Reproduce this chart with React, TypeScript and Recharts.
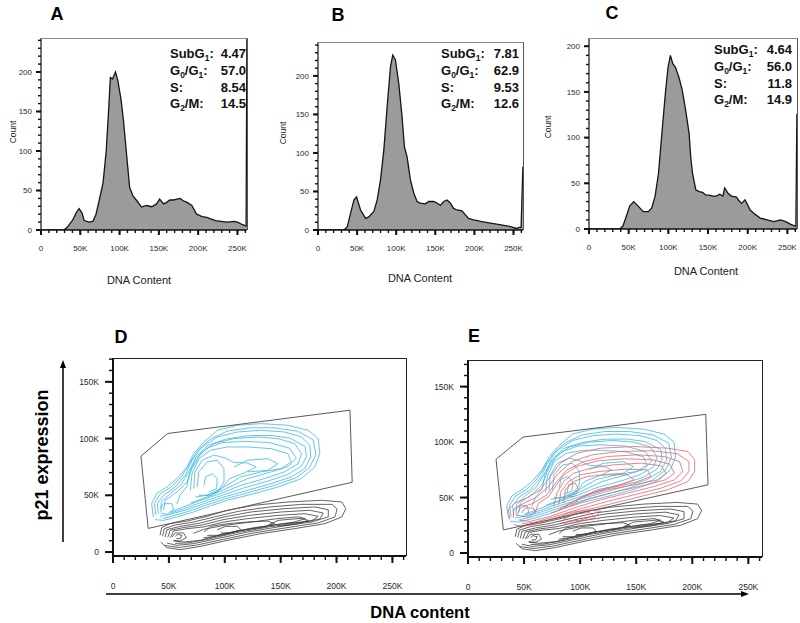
import { AreaChart, Area, LineChart, Line, XAxis, YAxis } from 'recharts';

// ---- tick values ----
const dnaTicksK = [0, 10, 20, 30, 40, 50, 60, 70, 80, 90, 100, 110, 120, 130, 140, 150, 160, 170, 180, 190, 200, 210, 220, 230, 240, 250, 260];
const countTicks240 = [0, 10, 20, 30, 40, 50, 60, 70, 80, 90, 100, 110, 120, 130, 140, 150, 160, 170, 180, 190, 200, 210, 220, 230, 240];
const countTicks200 = [0, 10, 20, 30, 40, 50, 60, 70, 80, 90, 100, 110, 120, 130, 140, 150, 160, 170, 180, 190, 200];
const p21TicksK = [0, 10, 20, 30, 40, 50, 60, 70, 80, 90, 100, 110, 120, 130, 140, 150, 160, 170];

// ---- histograms: [DNA content (K), count] ----
const histA = [
  [0, 0], [29, 0], [33, 3], [40, 12], [45, 22], [48.5, 27], [52, 22], [55, 12], [61, 10], [66, 11], [70, 20], [74, 37],
  [79, 60], [83, 100], [86, 151], [88.3, 193], [91, 191], [94.8, 200], [97.8, 189], [102, 164], [105, 138], [108.5, 100],
  [112.8, 54], [117, 43], [122, 37], [128, 29], [134, 31], [141, 29.5], [147, 33], [151, 39], [156, 33], [160, 35],
  [164, 38], [168.5, 38], [177, 40], [181, 37], [186, 35], [192, 31], [198, 20], [205, 17], [211, 16], [216, 14],
  [222, 12], [229, 11], [237, 10], [246, 11], [250, 10], [256, 7], [261, 5], [262, 242],
];
const histB = [
  [0, 0], [33, 0], [37.4, 4], [41.7, 22], [45.9, 39], [49.3, 43], [54.4, 26], [60.8, 15], [65, 17], [71.4, 24], [75.7, 39],
  [79.9, 65], [84.2, 104], [88.4, 160], [92.7, 212], [95.6, 227], [99, 221], [103.3, 190], [107.5, 147], [110.5, 108],
  [113.9, 95], [118.2, 65], [122.4, 48], [126.7, 37], [130.9, 35], [137.3, 34], [141.5, 37], [147.9, 37], [152.2, 35],
  [156.4, 32], [160.7, 37], [164.9, 39], [169.2, 35], [173.4, 28], [177.7, 26], [184, 25], [188.3, 20], [192.5, 15],
  [198.9, 13], [209.5, 11], [226.5, 8], [243.5, 5], [254.2, 2], [257.1, 3.5], [259.7, 3.5], [262, 82],
];
const histC = [
  [0, 0], [38.5, 0], [42.7, 3], [47, 14], [51.3, 25], [56.4, 30], [62, 25], [68.4, 19], [74.8, 19], [79.1, 23], [83.3, 36],
  [87.6, 61], [91.9, 105], [96.2, 148], [99.6, 177], [102.6, 190], [105.6, 181], [109, 177], [113.3, 166], [117.5, 152],
  [121.8, 130], [126.1, 105], [128.2, 79], [130.4, 61], [134.6, 43], [138.9, 41], [143.2, 40], [147.5, 37], [151.7, 37],
  [156, 36], [160.3, 36], [164.6, 38], [168.8, 36], [171, 45], [175.2, 39], [179.5, 36], [185.9, 35], [188.1, 32],
  [192.3, 28], [196.6, 32], [199.6, 27], [202.9, 21], [209.4, 16], [215.8, 12], [224.4, 10], [232.9, 8], [241.5, 10],
  [247.9, 8], [254.3, 5], [260.7, 3], [262, 126],
];

// ---- cell cycle percentages ----
const statsA = ['4.47', '57.0', '8.54', '14.5'];
const statsB = ['7.81', '62.9', '9.53', '12.6'];
const statsC = ['4.64', '56.0', '11.8', '14.9'];

// ---- contour rings: [DNA (K), p21 (K)] ----
const gate = [[25, 84.5], [49, 104.5], [212, 125], [214, 61.5], [31.5, 20.8]];

const blueRings = [
  [[36.1, 30.9], [34.6, 42.6], [39.1, 51.5], [48.2, 57.3], [57.2, 64.7], [66.2, 75], [72.2, 86.7], [81.3, 97], [93.3, 107.3], [111.4, 111.7], [132.4, 113.2], [156.5, 111.7], [174.6, 107.3], [183.6, 100], [185.1, 86.7], [180.6, 75], [168.6, 64.7], [147.5, 57.3], [126.4, 51.5], [102.3, 45.6], [84.3, 39.7], [72.2, 35.3], [57.2, 30.9], [45.2, 27.9], [37.6, 28.5]],
  [[38.5, 32.5], [37, 42.6], [42, 51], [52, 57.3], [61, 66], [68.5, 78], [76, 89.7], [87, 99.5], [102, 106.5], [122, 109.5], [144, 109.5], [165, 106.5], [179, 99], [181.5, 86], [176, 74.5], [164, 65.5], [144.5, 58.8], [123.4, 53], [100.8, 47], [82.8, 41.2], [69.2, 36.3], [54.2, 32], [44.5, 29.5]],
  [[40.6, 33.8], [39.7, 42.6], [45.2, 50], [55.7, 57.3], [64.7, 67.6], [70.7, 80.9], [79.8, 92.6], [93.3, 101.4], [111.4, 105.8], [132.4, 107.3], [153.5, 105.8], [168.6, 101.4], [176.1, 94.1], [177, 83.8], [171.6, 73.5], [159.5, 66.2], [141.5, 60.3], [120.4, 54.4], [99.3, 48.5], [81.3, 42.6], [66.2, 37.3], [51.2, 33.2], [42.1, 31.5]],
  [[42.9, 35.3], [43.2, 44], [51.2, 51.5], [61, 59.5], [67.7, 70.6], [74.5, 84], [85, 94.1], [101, 99.5], [120.4, 102.5], [141, 102.8], [158, 100.5], [172, 93], [173, 84], [168.6, 75.7], [156.5, 68.4], [138.5, 62.5], [117.4, 56.6], [97.8, 50], [79.8, 44.1], [64.7, 38.5], [51.2, 34.2]],
  [[45.2, 36.8], [46.7, 45.6], [57.2, 52.9], [66.2, 61.7], [70.7, 73.5], [78.3, 86.7], [90.3, 95.6], [108.4, 100], [129.4, 101.4], [147.5, 100], [162.5, 95.6], [168.6, 86.7], [165.6, 77.9], [153.5, 70.6], [135.5, 64.7], [114.4, 58.8], [96.3, 51.5], [78.3, 45.6], [63.2, 39.7], [51.2, 35.3]],
  [[57, 42], [60, 50], [66.2, 58], [68.5, 70], [74, 82], [84, 91.5], [98, 96.5], [118, 97.5], [140, 96.5], [158, 91.5], [164, 83], [157, 75.5], [141.5, 70.6], [120.4, 64.7], [99.3, 55], [84.3, 48.5], [69.2, 43]],
  [[69.2, 54.4], [70.7, 69.1], [76.8, 82.3], [87.3, 89.7], [102.3, 92.6], [120.4, 92.6], [141.5, 91.1], [156.5, 86.7], [159.5, 79.4], [150.5, 73.5], [132.4, 70.6], [114.4, 66.2], [99.3, 57.3], [84.3, 50], [73.7, 48.5]],
  [[72.2, 55.9], [73.2, 70], [79.8, 81], [90.3, 85.5], [100, 83], [108, 79], [120, 78.5], [128, 75], [118, 70], [104, 64.5], [96.3, 55], [86.8, 49.5], [76.8, 50]],
  [[75.3, 57.3], [76.8, 70.6], [84.3, 79.4], [93.3, 80.9], [99.3, 73.5], [99.3, 61.7], [93.3, 52.9], [82.8, 50]],
  [[81.3, 58.8], [82.8, 66.2], [88.8, 69.1], [93.3, 64.7], [92.7, 55.9], [85.8, 52.9]],
  [[42.1, 38.2], [45.2, 42.6], [52.7, 42.6], [54.2, 36.8], [48.2, 33.2], [42.7, 34.4]],
  [[108.4, 75], [120.4, 80.9], [138.5, 82.3], [147.5, 77.9], [138.5, 72], [120.4, 70.6]],
];

const blackRings = [
  [[42.1, 14.7], [43.6, 21.5], [51.2, 25], [66.2, 27.3], [84.3, 31.5], [102.3, 36.8], [126.4, 41.2], [156.5, 44.1], [186.6, 45.6], [204.7, 44.1], [208.3, 38.2], [204.7, 30.9], [189.6, 25], [162.5, 20.6], [132.4, 16.2], [102.3, 10.3], [78.3, 5], [60.2, 2.1], [48.2, 3.8], [42.7, 8.8]],
  [[44.4, 14], [45.9, 20.6], [55.7, 23.8], [72.2, 26.5], [91.8, 31.2], [112.8, 36], [140, 39.7], [168.6, 42], [196, 42], [200.5, 37.8], [198.6, 30.9], [183.6, 25.7], [156.5, 21.6], [126.4, 16.9], [97.8, 11], [75.3, 6.2], [58.7, 4], [46.2, 5.8]],
  [[46.7, 13.2], [48.2, 19.7], [60.2, 22.6], [78.3, 25.6], [99.3, 30.9], [123.4, 35.3], [153.5, 38.2], [180.6, 39.7], [192.6, 37.3], [192.6, 30.9], [177.6, 26.5], [150.5, 22.6], [120.4, 17.6], [93.3, 11.8], [72.2, 7.4], [57.2, 5.9], [48.2, 7.9]],
  [[49, 12.9], [51.2, 19.1], [63.2, 21.6], [79.8, 23.8], [99.3, 28.7], [121.9, 32.3], [150.5, 35.3], [176.1, 36.8], [188.1, 34.4], [185.1, 29.1], [165.6, 25.8], [138.5, 22], [110, 17], [85.8, 11.5], [67.7, 8.1], [55.7, 7.6]],
  [[51.2, 12.6], [54.2, 18.5], [66.2, 20.6], [81.3, 22.1], [99.3, 26.5], [120.4, 29.4], [147.5, 32.3], [171.6, 33.8], [183.6, 31.5], [177.6, 27.3], [153.5, 25], [126.4, 21.5], [99.3, 16.2], [78.3, 10.3], [63.2, 8.8], [54.2, 9.7]],
  [[72, 16.5], [81.3, 20], [99.3, 23.5], [120.4, 26], [147.5, 29.5], [165.6, 31], [172, 29.5], [162.5, 26.5], [138.5, 23], [114.4, 19], [96.3, 14.5], [80.8, 12.5]],
  [[52.7, 13.2], [55.7, 16.8], [63.2, 16.8], [65.6, 12.6], [60.2, 9.7], [54.2, 10.3]],
  [[81.3, 17.6], [87.3, 22.6], [102.3, 25], [120.4, 26.5], [138.5, 27.3], [144.5, 25], [132.4, 21.5], [111.4, 18.5], [93.3, 14.7], [84.3, 14.7]],
  [[93.3, 19.7], [100.8, 22.6], [111.4, 22.6], [114.4, 19.7], [105.4, 16.8], [96.3, 16.8]],
  [[138.5, 23.5], [147.5, 27.9], [168.6, 29.7], [174.6, 27.9], [165.6, 25], [147.5, 22.6]],
  [[55.7, 13.8], [57.8, 15.6], [61.7, 14.7], [60.2, 11.8], [56.6, 11.8]],
];

const redRings = [
  [[37.4, 30], [35.9, 39], [41.9, 45], [52.4, 49.5], [64.4, 57], [73.4, 69], [82.3, 81], [97.3, 90], [118.3, 94.5], [148.2, 96], [178.1, 94.5], [196.1, 91.5], [202.1, 84], [202.1, 73.5], [196.1, 64.5], [178.1, 57], [154.2, 51], [130.2, 45], [106.3, 39], [82.3, 33], [64.4, 27], [49.4, 24], [40.4, 25.5]],
  [[40.4, 31.5], [41, 39.8], [50, 45], [61.4, 50.5], [71.9, 60], [80.8, 72], [92.8, 82.5], [110.8, 88.5], [135, 91.5], [163.7, 92.2], [186.6, 89.5], [197, 82.5], [197, 73.5], [190.1, 65.2], [172.2, 58.5], [148.2, 52.5], [124.3, 46.5], [100.3, 39.8], [77.8, 33], [59.9, 27.8], [47.9, 26.5]],
  [[43.4, 33], [46.4, 40.5], [58.4, 45], [70.4, 52.5], [79.3, 64.5], [88.3, 75], [103.3, 82.5], [124.3, 87], [151.2, 88.5], [175.2, 87], [188.6, 82.5], [191.6, 73.5], [184.1, 66], [166.2, 60], [142.2, 54], [118.3, 48], [94.3, 40.5], [73.4, 33], [55.4, 28.5], [46.4, 29.4]],
  [[60, 37], [63, 45], [72, 51], [78, 60], [85, 70], [97, 78], [115, 83], [140, 85], [165, 84], [180, 80], [184, 72], [176, 66], [157, 60.8], [133, 55.5], [110, 49.5], [90, 42], [74, 36]],
  [[76.3, 42], [79.3, 54], [85.3, 64.5], [94.3, 72], [109.3, 76.5], [130.2, 79.5], [154.2, 81], [172.2, 78.6], [176.6, 72], [169.2, 66], [148.2, 61.5], [124.3, 57], [103.3, 51], [88.3, 43.5], [80.8, 39]],
  [[81, 43.5], [83, 55.5], [89.8, 64.5], [100.3, 70.5], [117, 73.5], [140, 75.5], [160, 75], [163, 69], [150, 64], [130, 59.2], [110, 54], [95, 47], [86, 41]],
  [[85.3, 45], [86.8, 57], [94.3, 64.5], [106.3, 69], [124.3, 70.5], [142.2, 70.5], [148.2, 66], [136.2, 61.5], [115.3, 57], [100.3, 49.5], [91.3, 42]],
  [[79.3, 30], [88.3, 36], [106.3, 39], [118.3, 37.5], [112.3, 31.5], [94.3, 27], [82.3, 27]],
  [[85, 30.5], [95, 35], [108, 36.5], [112, 33.5], [100, 29.5], [88, 28.5]],
  [[47.9, 36], [50.9, 40.5], [58.4, 40.5], [59.9, 36], [53.9, 32.4], [48.8, 33]],
  [[88.3, 54], [89.8, 61.5], [95.8, 63], [98.8, 57], [94.3, 51], [89.2, 51]],
];

const FONT = '"Liberation Sans", Arial, sans-serif';
const AX = 40;
const XH = 40;

const toPts = (rows: number[][], kx: number, ky: number) => rows.map(([a, b]) => ({ x: a * kx, y: b * ky }));
const kLabel = (v: number) => (v === 0 ? '0' : `${Math.round(v / 1000)}K`);

// x/y handed to these ticks sit at the end of the built-in (minor-length) tick line
function makeXTick(minor: number, major: number, gap: number, size: number, majorStep: number, fmt: (v: number) => string) {
  return (props: any) => {
    const { x, y, payload } = props;
    const y0 = Number(y) - minor;
    const isMajor = payload.value % majorStep === 0;
    return (
      <g>
        {isMajor && <rect x={Number(x) - 1} y={y0} width={2} height={major} fill="#111" />}
        {isMajor && (
          <text x={x} y={y0 + gap} dy="0.35em" textAnchor="middle" fontSize={size} fill="#2a2a2a" fontFamily={FONT}>
            {fmt(payload.value)}
          </text>
        )}
      </g>
    );
  };
}

function makeYTick(minor: number, major: number, gap: number, size: number, majorStep: number, fmt: (v: number) => string) {
  return (props: any) => {
    const { x, y, payload } = props;
    const x0 = Number(x) + minor;
    const isMajor = payload.value % majorStep === 0;
    return (
      <g>
        {isMajor && <rect x={x0 - major} y={Number(y) - 1} width={major} height={2} fill="#111" />}
        {isMajor && (
          <text x={x0 - gap} y={y} dy="0.35em" textAnchor="end" fontSize={size} fill="#2a2a2a" fontFamily={FONT}>
            {fmt(payload.value)}
          </text>
        )}
      </g>
    );
  };
}

const histXTick = makeXTick(3, 5, 18, 8, 50000, kLabel);
const histYTick = makeYTick(3, 5, 9, 8, 50, (v) => String(v));
const dotXTick = makeXTick(4, 7, 30, 8.5, 50000, kLabel);
const dotYTick = makeYTick(4, 8, 14, 8.5, 50000, kLabel);

function Histogram({ left, top, w, h, rows, yMax, yTicks }: any) {
  const data = toPts(rows, 1000, 1);
  return (
    <div style={{ position: 'absolute', left: left - AX, top: top - 2 }}>
      <AreaChart width={w + AX + 4} height={h + XH + 2} data={data} margin={{ top: 2, right: 4, bottom: 0, left: 0 }}>
        <XAxis type="number" dataKey="x" domain={[0, 262144]} ticks={dnaTicksK.map((t) => t * 1000)} interval={0}
          height={XH} tickSize={3} tickMargin={0} stroke="#111" tickLine={{ stroke: '#111', strokeWidth: 1.4 }} tick={histXTick}
          axisLine={{ stroke: '#111', strokeWidth: 1.5 }} allowDataOverflow />
        <YAxis type="number" domain={[0, yMax]} ticks={yTicks} interval={0} width={AX} tickSize={3} tickMargin={0} stroke="#111"
          tickLine={{ stroke: '#111', strokeWidth: 1.4 }} tick={histYTick} axisLine={{ stroke: '#111', strokeWidth: 1.2 }} allowDataOverflow />
        <Area type="linear" dataKey="y" stroke="#151515" strokeWidth={1.3} fill="#9b9b9b" fillOpacity={1}
          isAnimationActive={false} dot={false} activeDot={false} />
      </AreaChart>
      <div style={{ position: 'absolute', left: AX, top: 2, width: w + 1, height: h, borderTop: '1px solid #8a8a8a',
        borderRight: '1px solid #555', boxSizing: 'border-box', pointerEvents: 'none' }} />
    </div>
  );
}

function ContourPlot({ left, top, w, h, yMin, yMax, layers }: any) {
  return (
    <div style={{ position: 'absolute', left: left - AX, top: top - 2 }}>
      <LineChart width={w + AX + 4} height={h + XH + 2} margin={{ top: 2, right: 4, bottom: 0, left: 0 }}>
        <XAxis type="number" dataKey="x" domain={[0, 262144]} ticks={dnaTicksK.map((t) => t * 1000)} interval={0}
          height={XH} tickSize={4} tickMargin={0} stroke="#111" tickLine={{ stroke: '#111', strokeWidth: 1.4 }} tick={dotXTick}
          axisLine={{ stroke: '#111', strokeWidth: 2 }} allowDataOverflow />
        <YAxis type="number" dataKey="y" domain={[yMin, yMax]} ticks={p21TicksK.map((t) => t * 1000)} interval={0}
          width={AX} tickSize={4} tickMargin={0} stroke="#111" tickLine={{ stroke: '#111', strokeWidth: 1.4 }} tick={dotYTick}
          axisLine={{ stroke: '#111', strokeWidth: 2 }} allowDataOverflow />
        {layers.map((layer: any, li: number) =>
          layer.rings.map((ring: number[][], i: number) => (
            <Line key={`${li}-${i}`} data={toPts(ring, 1000, 1000)} dataKey="y" type={layer.curve || 'cardinalClosed'}
              stroke={layer.color} strokeWidth={layer.width || 0.8} dot={false} activeDot={false} isAnimationActive={false} />
          )),
        )}
      </LineChart>
      <div style={{ position: 'absolute', left: AX, top: 2, width: w + 1, height: h, borderTop: '1.5px solid #222',
        borderRight: '1.5px solid #222', boxSizing: 'border-box', pointerEvents: 'none' }} />
    </div>
  );
}

const subStyle = { fontSize: 8.5, verticalAlign: 'baseline', position: 'relative', top: 3 } as const;
const phaseLabels = [
  <>SubG<sub style={subStyle}>1</sub>:</>,
  <>G<sub style={subStyle}>0</sub>/G<sub style={subStyle}>1</sub>:</>,
  <>S:</>,
  <>G<sub style={subStyle}>2</sub>/M:</>,
];

function Stats({ left, right, top, values }: any) {
  return (
    <div style={{ position: 'absolute', left, top, width: right - left, fontFamily: FONT, fontWeight: 'bold', fontSize: 13,
      lineHeight: '16.8px', color: '#111' }}>
      {phaseLabels.map((lab, i) => (
        <div key={i} style={{ display: 'flex', justifyContent: 'space-between', height: 16.8 }}>
          <span>{lab}</span>
          <span>{values[i]}</span>
        </div>
      ))}
    </div>
  );
}

function Txt({ x, y, size, bold, rotate, children }: any) {
  return (
    <div style={{ position: 'absolute', left: x, top: y, transform: `translate(-50%, -50%)${rotate ? ' rotate(-90deg)' : ''}`,
      fontFamily: FONT, fontSize: size, fontWeight: bold ? 'bold' : 'normal', color: bold ? '#000' : '#222', whiteSpace: 'nowrap' }}>
      {children}
    </div>
  );
}

export default function App() {
  const gateLayer = { rings: [gate], color: '#5a5a5a', width: 1, curve: 'linearClosed' };
  return (
    <div style={{ position: 'absolute', left: 0, top: 0, width: 800, height: 623, background: '#fff', overflow: 'hidden' }}>
      <Histogram left={41} top={38} w={206} h={192} rows={histA} yMax={243} yTicks={countTicks240} />
      <Histogram left={318} top={42} w={205} h={188} rows={histB} yMax={244} yTicks={countTicks240} />
      <Histogram left={589} top={38} w={208} h={191} rows={histC} yMax={209} yTicks={countTicks200} />

      <Stats left={170} right={246} top={46} values={statsA} />
      <Stats left={441} right={519} top={46} values={statsB} />
      <Stats left={714} right={792} top={42} values={statsC} />

      <Txt x={57} y={14} size={18} bold>A</Txt>
      <Txt x={338} y={15} size={18} bold>B</Txt>
      <Txt x={612} y={13} size={18} bold>C</Txt>
      <Txt x={13} y={132} size={8.5} rotate>Count</Txt>
      <Txt x={283} y={133} size={8.5} rotate>Count</Txt>
      <Txt x={548} y={127} size={8.5} rotate>Count</Txt>
      <Txt x={139} y={280} size={11}>DNA Content</Txt>
      <Txt x={420} y={278} size={11}>DNA Content</Txt>
      <Txt x={706} y={271} size={11}>DNA Content</Txt>

      <ContourPlot left={113} top={358} w={293} h={198} yMin={-3500} yMax={171000}
        layers={[{ rings: blackRings, color: '#3c3c3c' }, { rings: blueRings, color: '#3fb6e2' }, gateLayer]} />
      <ContourPlot left={468} top={360} w={294} h={197} yMin={-3600} yMax={174000}
        layers={[{ rings: blackRings, color: '#3c3c3c' }, { rings: blueRings, color: '#3fb6e2' }, { rings: redRings, color: '#e2646d' }, gateLayer]} />

      <Txt x={121} y={337} size={18} bold>D</Txt>
      <Txt x={474} y={336} size={18} bold>E</Txt>
      <Txt x={42} y={455} size={18} bold rotate>p21 expression</Txt>
      <Txt x={420} y={612} size={16.5} bold>DNA content</Txt>

      <svg width={800} height={623} style={{ position: 'absolute', left: 0, top: 0, pointerEvents: 'none' }}>
        <line x1={63} y1={542} x2={63} y2={366} stroke="#000" strokeWidth={1.5} />
        <polygon points="63,360 60,368 66,368" fill="#000" />
        <line x1={106} y1={594} x2={742} y2={594} stroke="#000" strokeWidth={1.5} />
        <polygon points="749,594 741,591 741,597" fill="#000" />
      </svg>
    </div>
  );
}
